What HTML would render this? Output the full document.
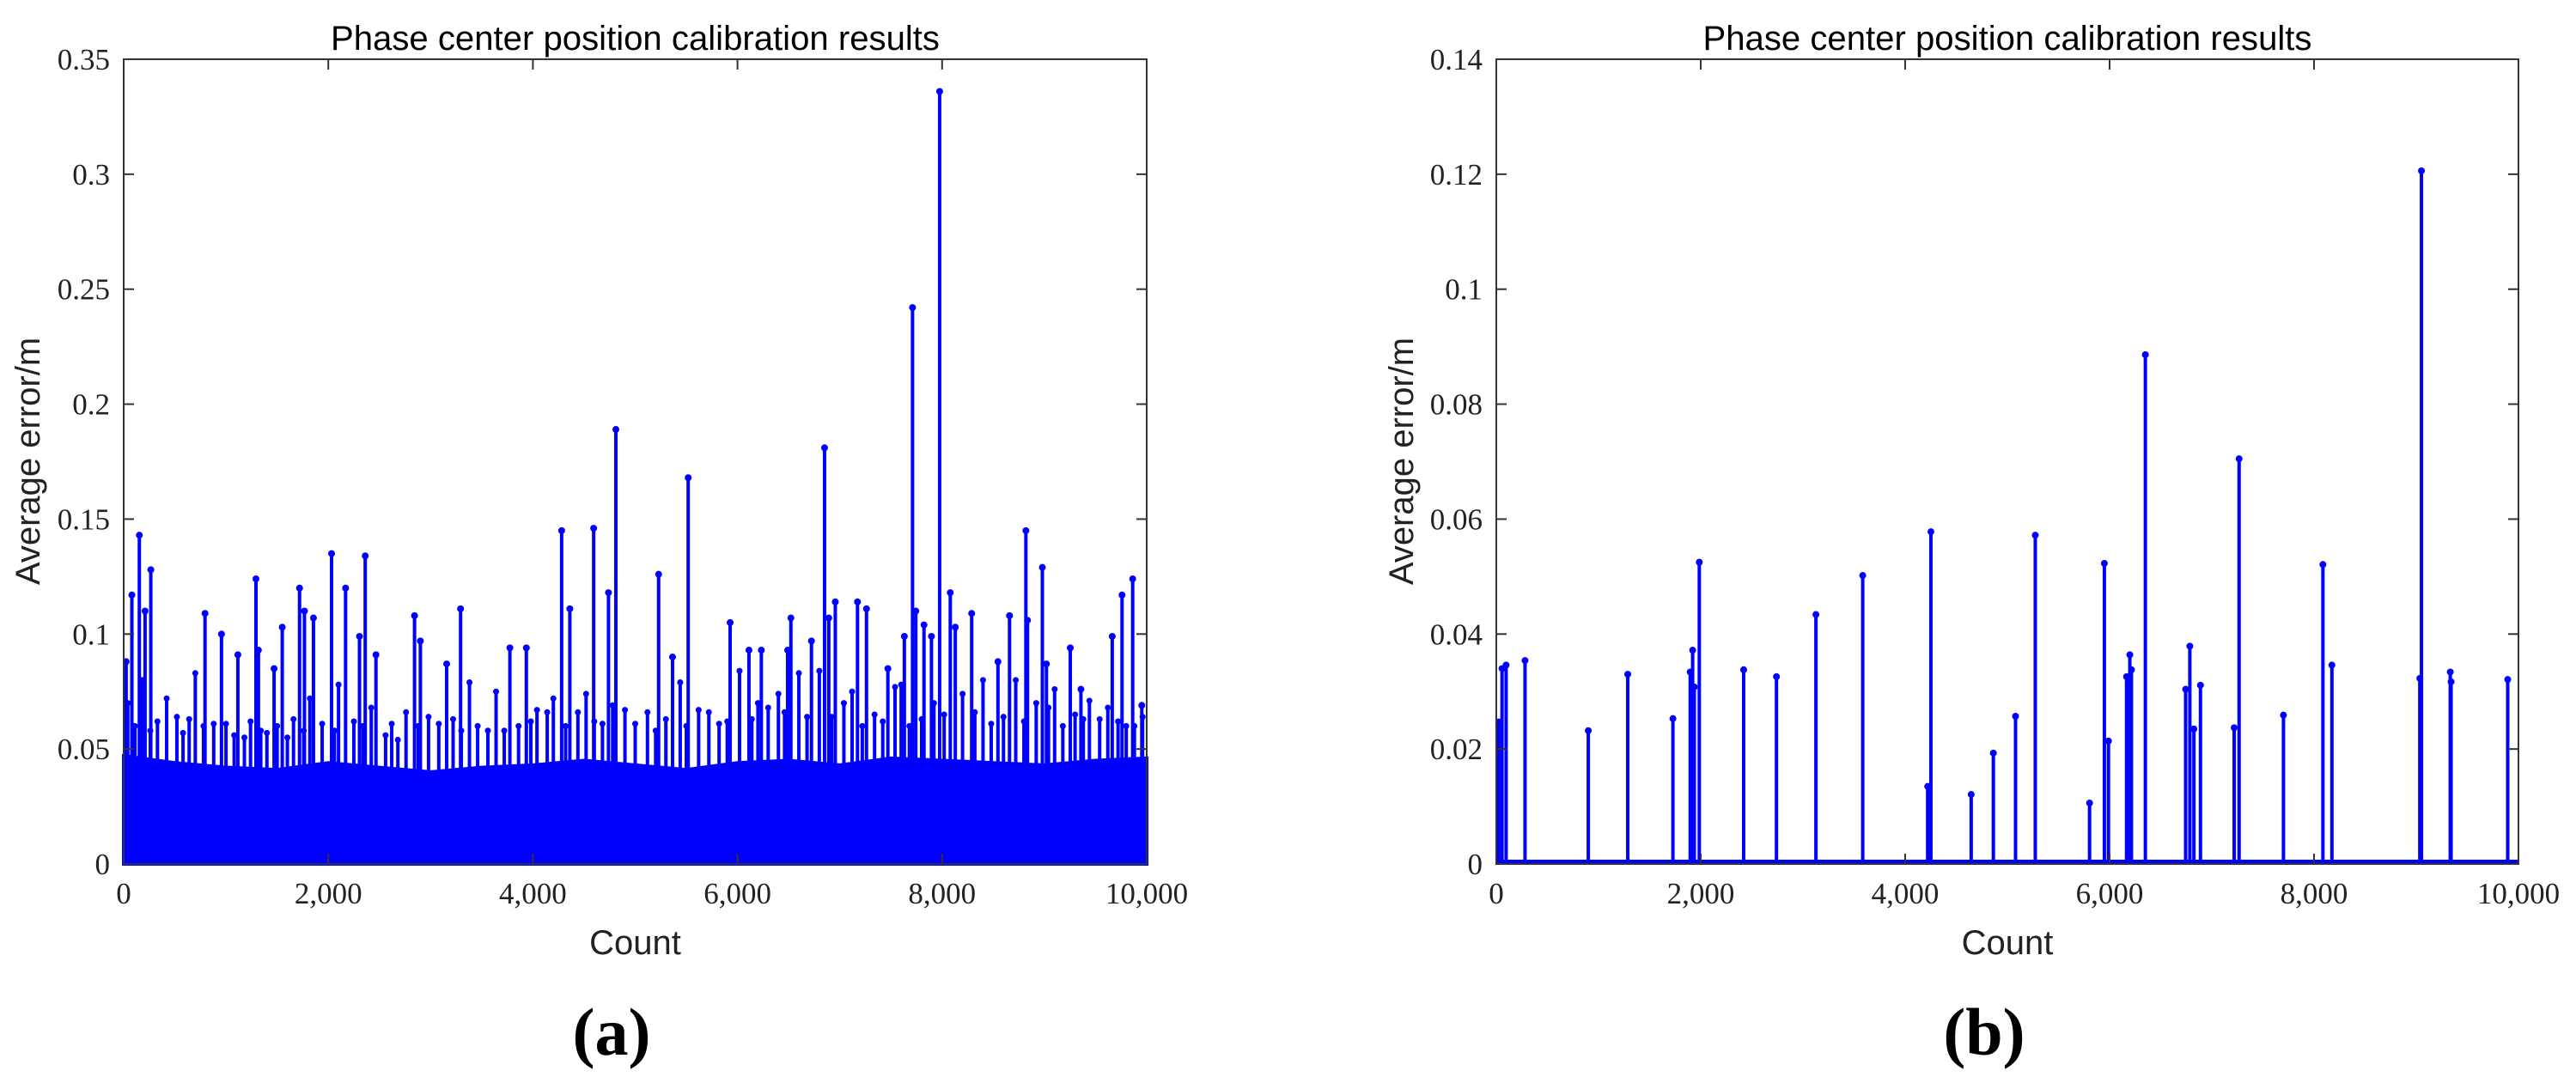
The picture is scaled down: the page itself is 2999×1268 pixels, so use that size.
<!DOCTYPE html>
<html><head><meta charset="utf-8"><style>
html,body{margin:0;padding:0;background:#fff;}
svg{display:block;}
</style></head><body>
<svg id="fig" xmlns="http://www.w3.org/2000/svg" width="2999" height="1268" viewBox="0 0 2999 1268"></svg>
<script>
// ---- shared axis data ----
const xTicks = [0, 2000, 4000, 6000, 8000, 10000];
const xTickLabels = ["0", "2,000", "4,000", "6,000", "8,000", "10,000"];
// ---- panel (a) data ----
const yTicksA = [0, 0.05, 0.1, 0.15, 0.2, 0.25, 0.3, 0.35];
const yTickLabelsA = ["0", "0.05", "0.1", "0.15", "0.2", "0.25", "0.3", "0.35"];
const peakCountsA = [24,80,153,209,265,795,956,1116,1293,1317,1470,1550,1719,1767,1855,2032,2169,2305,2361,2466,2843,2900,3157,3293,3775,3936,4281,4361,4594,4739,4811,5229,5365,5518,5928,6112,6233,6490,6522,6723,6851,6892,6956,7173,7261,7470,7631,7711,7743,7823,7896,7976,8080,8129,8289,8546,8659,8819,8835,8980,9020,9253,9357,9663,9759,9863,9952];
const peakValuesA = [0.088,0.117,0.143,0.110,0.128,0.109,0.100,0.091,0.124,0.093,0.085,0.103,0.120,0.110,0.107,0.135,0.120,0.099,0.134,0.091,0.108,0.097,0.087,0.111,0.094,0.094,0.145,0.111,0.146,0.118,0.189,0.126,0.090,0.168,0.105,0.093,0.093,0.093,0.107,0.097,0.181,0.107,0.114,0.114,0.111,0.085,0.099,0.242,0.110,0.104,0.099,0.336,0.118,0.103,0.109,0.088,0.108,0.145,0.106,0.129,0.087,0.094,0.076,0.099,0.117,0.124,0.069];
const midCountsA = [40,110,180,260,330,420,520,580,640,700,780,880,1000,1080,1180,1240,1340,1400,1500,1600,1660,1760,1820,1940,2060,2100,2250,2340,2420,2560,2620,2680,2760,2880,2980,3080,3220,3300,3380,3460,3560,3640,3720,3860,3980,4040,4140,4200,4320,4440,4520,4600,4680,4780,4900,5000,5120,5200,5300,5440,5500,5620,5720,5820,5900,6020,6140,6200,6300,6400,6460,6600,6680,6800,6920,7040,7120,7220,7340,7420,7540,7600,7680,7800,7920,8020,8200,8320,8400,8480,8600,8720,8800,8920,9040,9100,9180,9300,9380,9440,9540,9620,9720,9800,9880,9960];
const midValuesA = [0.070,0.060,0.080,0.058,0.062,0.072,0.064,0.057,0.063,0.083,0.060,0.061,0.061,0.056,0.055,0.062,0.058,0.057,0.060,0.055,0.063,0.058,0.072,0.061,0.058,0.078,0.062,0.060,0.068,0.056,0.061,0.054,0.066,0.060,0.064,0.061,0.063,0.058,0.079,0.060,0.058,0.075,0.058,0.060,0.062,0.067,0.066,0.072,0.060,0.066,0.074,0.062,0.061,0.069,0.067,0.061,0.066,0.058,0.063,0.079,0.060,0.067,0.066,0.061,0.062,0.084,0.063,0.070,0.068,0.074,0.066,0.083,0.064,0.084,0.064,0.070,0.075,0.060,0.065,0.062,0.077,0.078,0.060,0.063,0.070,0.065,0.074,0.066,0.080,0.061,0.064,0.080,0.062,0.070,0.068,0.076,0.060,0.065,0.063,0.071,0.063,0.068,0.062,0.060,0.060,0.064];
const bandCountsA = [0,500,1000,1500,2000,2500,3000,3500,4000,4500,5000,5500,6000,6500,7000,7500,8000,8500,9000,9500,10000];
const bandValuesA = [0.047,0.044,0.042,0.041,0.044,0.042,0.040,0.042,0.043,0.045,0.043,0.041,0.044,0.045,0.043,0.046,0.045,0.044,0.043,0.045,0.046];
// ---- panel (b) data ----
const yTicksB = [0, 0.02, 0.04, 0.06, 0.08, 0.1, 0.12, 0.14];
const yTickLabelsB = ["0", "0.02", "0.04", "0.06", "0.08", "0.1", "0.12", "0.14"];
const peakCountsB = [24,56,96,281,900,1286,1728,1897,1921,1937,1986,2420,2741,3127,3585,4220,4252,4646,4863,5080,5273,5804,5949,5989,6166,6198,6214,6350,6744,6785,6825,6889,7219,7267,7701,8087,8175,9035,9051,9333,9341,9895];
const peakValuesB = [0.0247,0.0340,0.0346,0.0354,0.0232,0.0330,0.0253,0.0334,0.0372,0.0308,0.0525,0.0338,0.0326,0.0434,0.0502,0.0135,0.0578,0.0121,0.0193,0.0257,0.0572,0.0106,0.0523,0.0214,0.0326,0.0364,0.0338,0.0886,0.0304,0.0379,0.0235,0.0311,0.0237,0.0705,0.0259,0.0521,0.0346,0.0323,0.1206,0.0334,0.0317,0.0321];

const NS = "http://www.w3.org/2000/svg";
const svg = document.getElementById('fig');
function mk(tag, attrs, parent) {
  const e = document.createElementNS(NS, tag);
  for (const k in attrs) e.setAttribute(k, attrs[k]);
  (parent || svg).appendChild(e);
  return e;
}
const BLUE = "#0000ff";

function panel(p) {
  const g = mk('g', {});
  
  
  const L = p.left, R = p.right, T = 69, B = 1006;
  const sx = v => L + (v - 0) / 10000 * (R - L);
  const sy = v => B - v / p.ymax * (B - T);

  const sg = mk('g', {}, g);
  
  
  if (p.band) {
    let d = "M" + sx(0) + "," + sy(0);
    p.band.c.forEach((c, i) => { d += " L" + sx(c) + "," + sy(p.band.v[i]); });
    d += " L" + sx(10000) + "," + sy(0) + " Z";
    const band = mk('path', {d: d, fill: BLUE, stroke: BLUE, 'stroke-width': 4}, sg);
    
    
  }
  if (p.mid) {
    p.mid.c.forEach((c, i) => {
      const ln = mk('line', {x1: sx(c), x2: sx(c), y1: sy(0), y2: sy(p.mid.v[i]), stroke: BLUE, 'stroke-width': 4}, sg);
      
      
      const dt = mk('circle', {cx: sx(c), cy: sy(p.mid.v[i]), r: 3.5, fill: BLUE}, sg);
      
      
    });
  }
  if (p.baseline) {
    const bl = mk('line', {x1: sx(0), x2: sx(10000), y1: sy(0) - 2, y2: sy(0) - 2, stroke: BLUE, 'stroke-width': 6}, sg);
    
    
  }
  p.peaks.c.forEach((c, i) => {
    const ln = mk('line', {x1: sx(c), x2: sx(c), y1: sy(0), y2: sy(p.peaks.v[i]), stroke: BLUE, 'stroke-width': 4}, sg);
    
    
    const dt = mk('circle', {cx: sx(c), cy: sy(p.peaks.v[i]), r: 4, fill: BLUE}, sg);
    
    
  });

  const fr = mk('rect', {x: L, y: T, width: R - L, height: B - T, fill: 'none', stroke: '#333', 'stroke-width': 2}, g);
  
  

  xTicks.forEach((t, i) => {
    const x = sx(t);
    mk('line', {x1: x, x2: x, y1: B, y2: B - 12, stroke: '#333', 'stroke-width': 2}, g);
    mk('line', {x1: x, x2: x, y1: T, y2: T + 12, stroke: '#333', 'stroke-width': 2}, g);
    const tx = mk('text', {x: x, y: 1052, 'text-anchor': 'middle', 'font-family': '"Liberation Serif", serif', 'font-size': 35, fill: '#222'}, g);
    tx.textContent = xTickLabels[i];
    
    
  });
  p.yt.forEach((t, i) => {
    const y = sy(t);
    mk('line', {x1: L, x2: L + 12, y1: y, y2: y, stroke: '#333', 'stroke-width': 2}, g);
    mk('line', {x1: R, x2: R - 12, y1: y, y2: y, stroke: '#333', 'stroke-width': 2}, g);
    const tx = mk('text', {x: L - 16, y: y + 12, 'text-anchor': 'end', 'font-family': '"Liberation Serif", serif', 'font-size': 35, fill: '#222'}, g);
    tx.textContent = p.ytl[i];
    
    
  });

  const cx = (L + R) / 2;
  const title = mk('text', {x: cx, y: 58, 'text-anchor': 'middle', 'font-family': '"Liberation Sans", sans-serif', 'font-size': 40, fill: '#000', textLength: 709, lengthAdjust: 'spacingAndGlyphs'}, g);
  title.textContent = "Phase center position calibration results";
  
  

  const xl = mk('text', {x: cx, y: 1111, 'text-anchor': 'middle', 'font-family': '"Liberation Sans", sans-serif', 'font-size': 40, fill: '#222'}, g);
  xl.textContent = "Count";
  
  

  const yx = p.ylabX, yy = 537;
  const yl = mk('text', {x: yx, y: yy, 'text-anchor': 'middle', transform: 'rotate(-90 ' + yx + ' ' + yy + ')', 'font-family': '"Liberation Sans", sans-serif', 'font-size': 40, fill: '#222'}, g);
  yl.textContent = "Average error/m";
  
  

  const sub = mk('text', {x: p.subX, y: 1228, 'text-anchor': 'middle', 'font-family': '"Liberation Serif", serif', 'font-weight': 'bold', 'font-size': 78, fill: '#000'}, g);
  sub.textContent = p.sub;
  
  
}

panel({name: 'panel-a', left: 144, right: 1335, ymax: 0.35, yt: yTicksA, ytl: yTickLabelsA,
  peaks: {c: peakCountsA, v: peakValuesA}, mid: {c: midCountsA, v: midValuesA},
  band: {c: bandCountsA, v: bandValuesA}, ylabX: 46, subX: 712, sub: "(a)"});
panel({name: 'panel-b', left: 1742, right: 2932, ymax: 0.14, yt: yTicksB, ytl: yTickLabelsB,
  peaks: {c: peakCountsB, v: peakValuesB}, baseline: true, ylabX: 1645, subX: 2310, sub: "(b)"});
</script>
</body></html>
